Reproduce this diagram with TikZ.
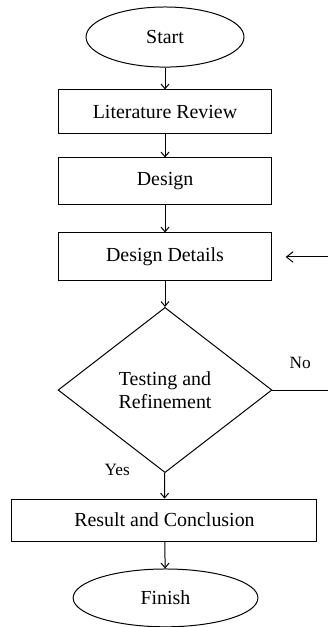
\documentclass[tikz,border=0pt]{standalone}
\usepackage{fontspec}
\setmainfont{Liberation Serif}
\usepackage{tikz}
\usetikzlibrary{shapes.geometric,arrows.meta}

\tikzset{
  stepbox/.style={draw, line width=0.75pt, rectangle, minimum width=5.66cm, inner sep=0pt},
  endcap/.style={draw, line width=0.75pt, ellipse, inner sep=0pt},
  flowarrow/.style={-{Straight Barb[length=3.5pt,width=6pt]}, line width=0.75pt},
}

\begin{document}
\begin{tikzpicture}[font=\fontsize{15}{17}\selectfont]
        \useasboundingbox (0,0) rectangle (8.678,16.59);
        % Start
        \node (start) [endcap, minimum width=4.18cm, minimum height=1.59cm] at (4.366,15.61) {Start};
        % Literature Review
        \node (review) [stepbox, minimum height=1.16cm] at (4.366,13.63) {Literature Review};
        \draw[flowarrow] (start) -- (review);
        % Design
        \node (design) [stepbox, minimum height=1.24cm] at (4.366,11.79) {Design};
        \draw[flowarrow] (review) -- (design);
        % Design Details
        \node (details) [stepbox, minimum height=1.27cm] at (4.366,9.79) {Design Details};
        \draw[flowarrow] (design) -- (details);
        % Testing and Refinement
        \node (testing) [draw, line width=0.75pt, diamond, inner sep=0pt, align=center,
          minimum width=5.66cm, minimum height=4.37cm] at (4.366,6.27) {Testing and\\Refinement};
        \draw[flowarrow] (details) -- (testing);
        % loop back (leaves the page on the right)
        \coordinate (noout) at (8.678,6.27);
        \coordinate (noin) at (8.678,9.79);
        \draw[line width=0.75pt] (testing.east) -- (noout);
        \draw[flowarrow, -{Straight Barb[length=5pt,width=8pt]}, shorten >=0.35cm] (noin) -- (details.east);
        \node (nolabel) [font=\fontsize{13}{15}\selectfont] at (7.94,6.98) {No};
        % Result and Conclusion
        \node (result) [stepbox, minimum width=8.07cm, minimum height=1.11cm] at (4.352,2.83) {Result and Conclusion};
        \draw[flowarrow] (testing) -- (result);
        \node (yeslabel) [font=\fontsize{13}{15}\selectfont] at (3.10,4.15) {Yes};
        % Finish
        \node (finish) [endcap, minimum width=4.89cm, minimum height=1.53cm] at (4.38,0.77) {Finish};
        \draw[flowarrow] (result) -- (finish);
\end{tikzpicture}
\end{document}
